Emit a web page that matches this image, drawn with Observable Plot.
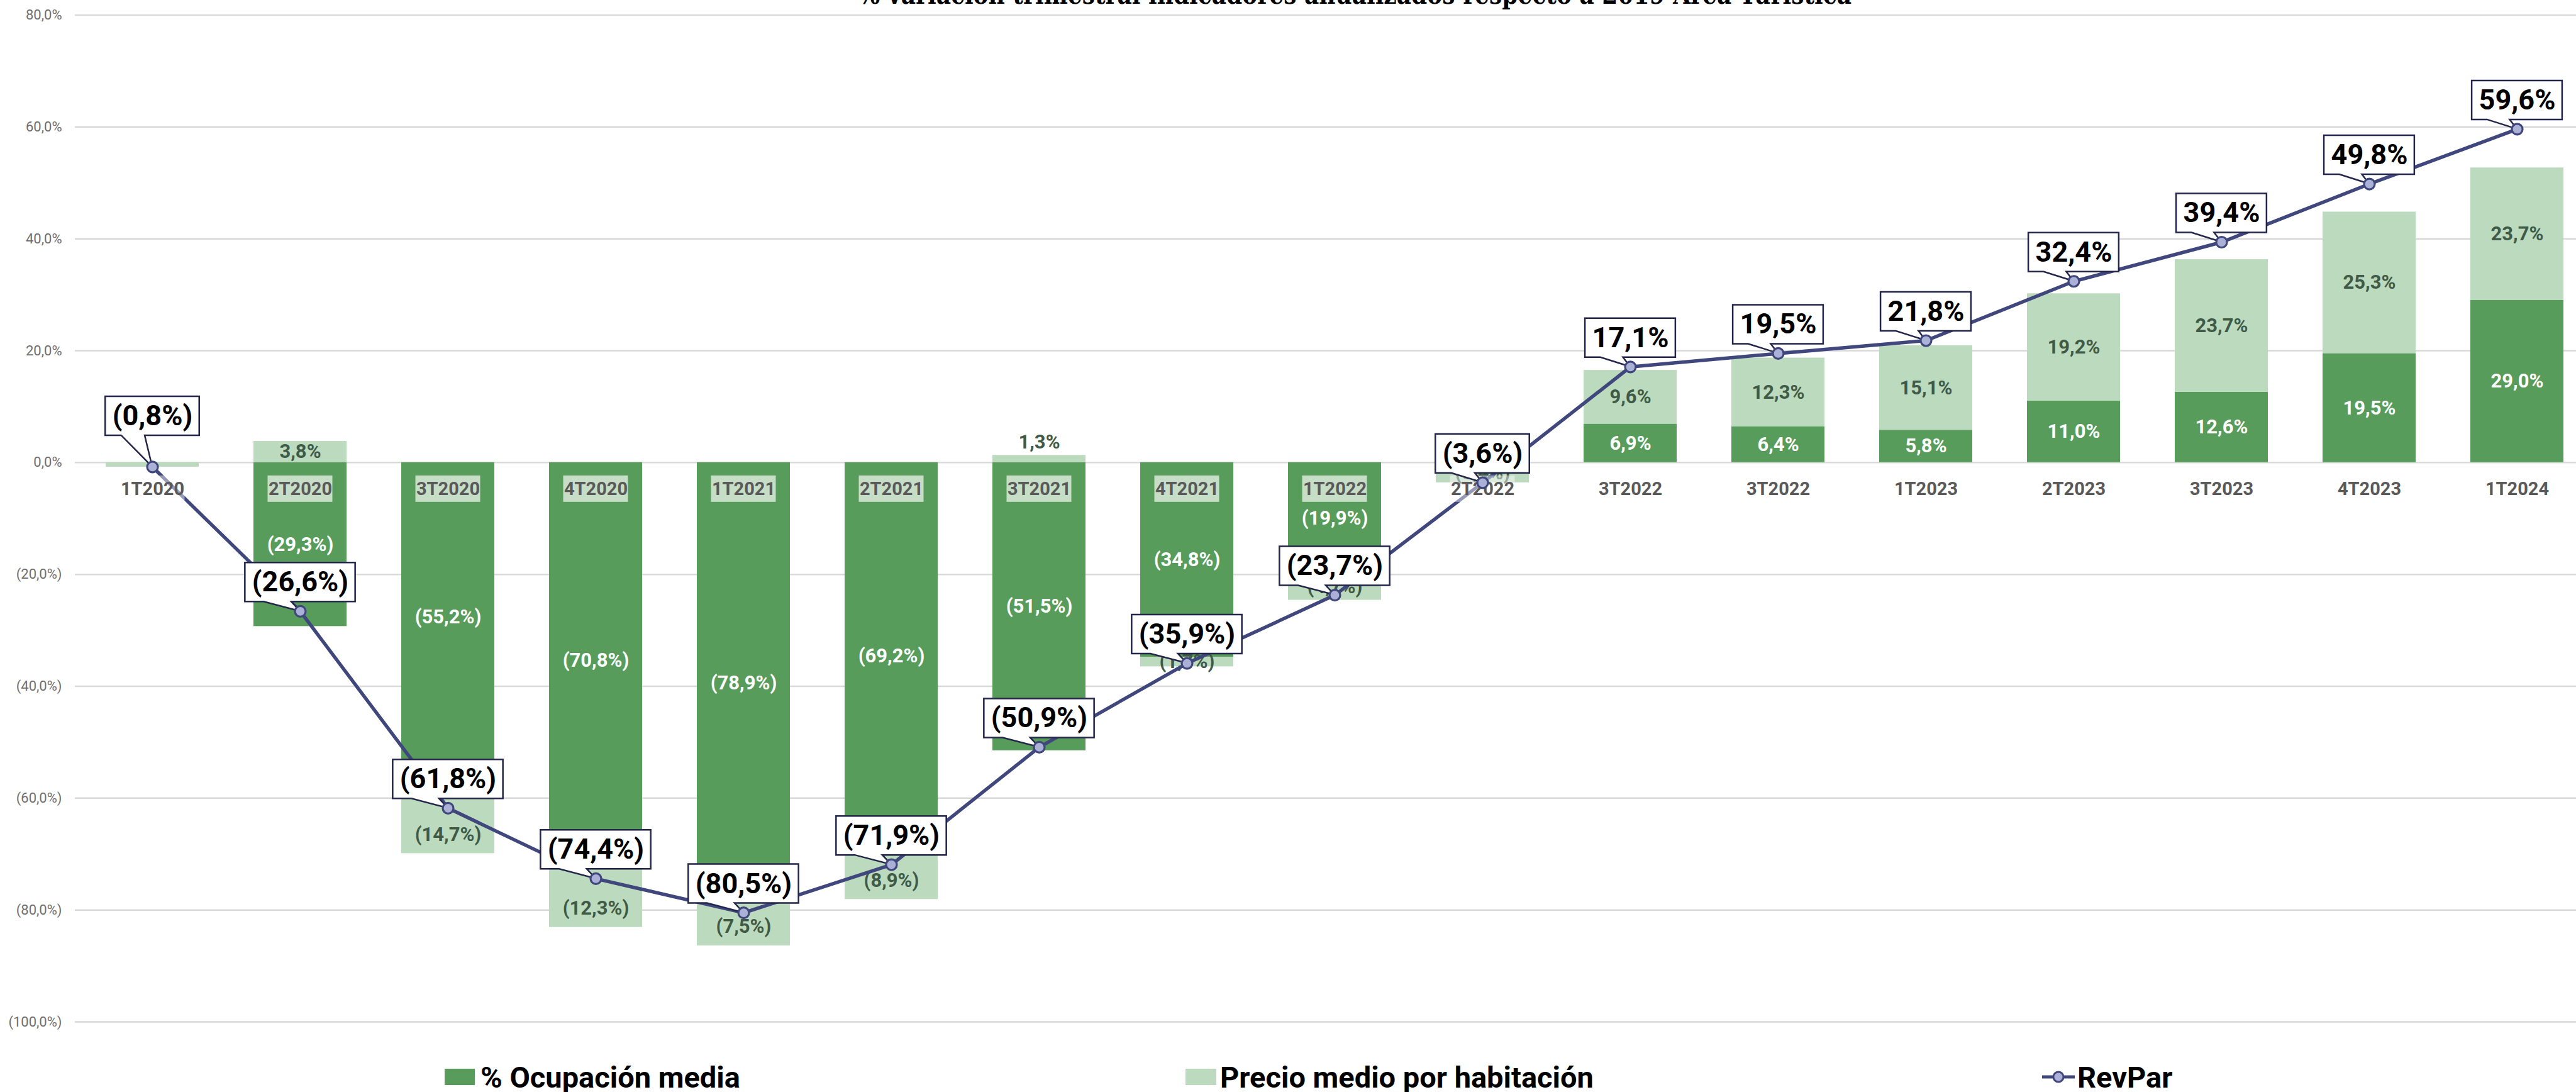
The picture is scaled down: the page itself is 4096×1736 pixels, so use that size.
<!DOCTYPE html>
<html><head><meta charset="utf-8">
<script src="https://cdn.jsdelivr.net/npm/d3@7"></script>
<script src="https://cdn.jsdelivr.net/npm/@observablehq/plot@0.6"></script>
<style>
html,body{margin:0;padding:0;background:#fff;overflow:hidden;width:4096px;height:1736px;position:relative;}
#chart{position:absolute;left:0;top:0;}
#legend{position:absolute;left:0;top:1650px;}
</style></head><body>
<div id="chart"></div><div id="legend"></div>
<script>
const categories = ["1T2020","2T2020","3T2020","4T2020","1T2021","2T2021","3T2021","4T2021","1T2022","2T2022","3T2022","3T2022","1T2023","2T2023","3T2023","4T2023","1T2024"];
const occupancy = [0.0,-29.3,-55.2,-70.8,-78.9,-69.2,-51.5,-34.8,-19.9,-0.2,6.9,6.4,5.8,11.0,12.6,19.5,29.0];
const price = [-0.8,3.8,-14.7,-12.3,-7.5,-8.9,1.3,-1.7,-4.7,-3.4,9.6,12.3,15.1,19.2,23.7,25.3,23.7];
const revpar = [-0.8,-26.6,-61.8,-74.4,-80.5,-71.9,-50.9,-35.9,-23.7,-3.6,17.1,19.5,21.8,32.4,39.4,49.8,59.6];
const yTicks = [80,60,40,20,0,-20,-40,-60,-80,-100];
const seriesNames = ["% Ocupación media","Precio medio por habitación","RevPar"];
const title = "% variación trimestral indicadores anualizados respecto a 2019 Área Turística";

const DARK = "#579c5a", LIGHT = "#bcdabe", NAVY = "#40477c", MARK = "#abb1d6", BOXSTROKE = "#23264a";
const FONT = "Roboto, 'Noto Sans', sans-serif";

const fmt = v => { const s = Math.abs(v).toFixed(1).replace(".", ",") + "%"; return v < 0 ? `(${s})` : s; };
const idx = d3.range(categories.length);
const rows = idx.flatMap(i => [
  {i, series: "occ", value: occupancy[i]},
  {i, series: "price", value: price[i]}
]);
const isAbove = d => d.series === "price" && d.value >= 1 && d.value < 2;
const isEnd = d => d.series === "price" && d.value <= -7;
const labelOcc = d => d.series === "occ" && Math.abs(d.value) >= 1 ? fmt(d.value) : "";
const labelPrice = d => d.series === "price" && Math.abs(d.value) >= 1 && !isAbove(d) && !isEnd(d) ? fmt(d.value) : "";
const labelAbove = d => isAbove(d) ? fmt(d.value) : "";
const labelEnd = d => isEnd(d) ? fmt(d.value) : "";

const W = 4126, H = 1650;
const chart = Plot.plot({
  width: W, height: H,
  marginLeft: 119, marginRight: 0, marginTop: 23.5, marginBottom: 26,
  style: {fontFamily: FONT, background: "transparent", overflow: "visible", maxWidth: "none"},
  x: {type: "band", domain: idx, paddingInner: 0.37, paddingOuter: 0.185, axis: null},
  y: {domain: [-100, 80]},
  color: {domain: ["occ", "price"], range: [DARK, LIGHT]},
  marks: [
    Plot.ruleY(yTicks, {stroke: "#d9d9d9", strokeWidth: 2.5}),
    Plot.axisY(yTicks, {tickFormat: fmt, tickSize: 0, tickPadding: 21, fontSize: 22, fill: "#6f6f6f", label: null}),
    Plot.barY(rows, {x: "i", y: "value", fill: "series"}),
    Plot.text(rows, Plot.stackY({x: "i", y: "value", text: labelOcc, fill: "white", fontSize: 31, fontWeight: 700})),
    Plot.text(rows, Plot.stackY({x: "i", y: "value", text: labelPrice, fill: "#3f5a47", fontSize: 31, fontWeight: 700})),
    Plot.text(rows, Plot.stackY2({x: "i", y: "value", text: labelEnd, fill: "#3f5a47", fontSize: 31, fontWeight: 700, dy: -30})),
    Plot.text(rows, Plot.stackY2({x: "i", y: "value", text: labelAbove, fill: "#3f5a47", fontSize: 31, fontWeight: 700, dy: -21})),
    Plot.line(idx, {x: i => i, y: i => revpar[i], stroke: NAVY, strokeWidth: 5.5}),
    Plot.text(idx, {x: i => i, y: () => 0, text: i => categories[i], dy: 42, fontSize: 29, fontWeight: 700, fill: "#595959", ariaDescription: "catlabels"}),
    Plot.text(idx.filter(i => Math.abs(revpar[i]) >= 1), {x: i => i, y: i => revpar[i], text: i => fmt(revpar[i]), dy: -46, fontSize: 45, fontWeight: 700, fill: "#000", ariaDescription: "callouts"}),
    Plot.text(idx.filter(i => Math.abs(revpar[i]) < 1), {x: i => i, y: i => revpar[i], text: i => fmt(revpar[i]), dy: -81, fontSize: 45, fontWeight: 700, fill: "#000", ariaDescription: "callouts"}),
    Plot.dot(idx, {x: i => i, y: i => revpar[i], r: 8.5, fill: MARK, stroke: NAVY, strokeWidth: 3.2})
  ]
});
document.getElementById("chart").appendChild(chart);

// Annotation shapes positioned with Plot's own scales
const svg = d3.select(chart);
const xs = chart.scale("x"), ys = chart.scale("y");
const bw = xs.bandwidth;
const cx = i => xs.apply(i) + bw / 2;
const y0 = ys.apply(0);

// category label boxes
const catNode = svg.select('g[aria-description="catlabels"]').node();
const catBoxes = catNode ? svg.insert("g", () => catNode) : svg.append("g");
idx.forEach(i => {
  const green = occupancy[i] < -5;
  catBoxes.append("rect")
    .attr("x", cx(i) - 51.5).attr("y", y0 + 21).attr("width", 103).attr("height", 42)
    .attr("fill", green ? "#c6ddc6" : "#ffffff")
    .attr("fill-opacity", green ? 1 : 0.45);
});

// callout boxes
const ctx = document.createElement("canvas").getContext("2d");
ctx.font = "700 45px Roboto";
const calloutNode = svg.select('g[aria-description="callouts"]').node();
const callG = calloutNode ? svg.insert("g", () => calloutNode) : svg.append("g");
idx.forEach(i => {
  const v = revpar[i];
  const w = ctx.measureText(fmt(v)).width + 22;
  const h = 62;
  const gap = Math.abs(v) < 1 ? 50 : 15;
  const px = cx(i), py = ys.apply(v);
  const bottom = py - gap, top = bottom - h, left = px - w / 2, right = px + w / 2;
  callG.append("path")
    .attr("d", `M${left},${top}H${right}V${bottom}H${px - 0.08 * w}L${px},${py}L${px - 0.33 * w},${bottom}H${left}Z`)
    .attr("fill", "#fff").attr("stroke", BOXSTROKE).attr("stroke-width", 2.5).attr("stroke-linejoin", "miter");
});

// title (cropped at top like the reference)
svg.append("text")
  .attr("x", 1365).attr("y", 5.5)
  .attr("text-anchor", "start")
  .attr("textLength", 1579).attr("lengthAdjust", "spacingAndGlyphs")
  .style("font", "700 42px 'DejaVu Serif', serif").attr("fill", "#000")
  .text(title);

// legend
const lg = d3.select("#legend").append("svg").attr("width", 4096).attr("height", 86)
  .style("font-family", FONT);
lg.append("rect").attr("x", 707).attr("y", 49).attr("width", 48).attr("height", 26).attr("fill", DARK);
lg.append("text").attr("x", 764).attr("y", 79).attr("font-size", 47).attr("font-weight", 700).text(seriesNames[0]);
lg.append("rect").attr("x", 1885).attr("y", 49).attr("width", 49).attr("height", 26).attr("fill", LIGHT);
lg.append("text").attr("x", 1940).attr("y", 79).attr("font-size", 47).attr("font-weight", 700).text(seriesNames[1]);
lg.append("line").attr("x1", 3247).attr("x2", 3299).attr("y1", 62).attr("y2", 62).attr("stroke", NAVY).attr("stroke-width", 5);
lg.append("circle").attr("cx", 3273).attr("cy", 62).attr("r", 8).attr("fill", MARK).attr("stroke", NAVY).attr("stroke-width", 3);
lg.append("text").attr("x", 3303).attr("y", 79).attr("font-size", 47).attr("font-weight", 700).text(seriesNames[2]);
</script>
</body></html>
